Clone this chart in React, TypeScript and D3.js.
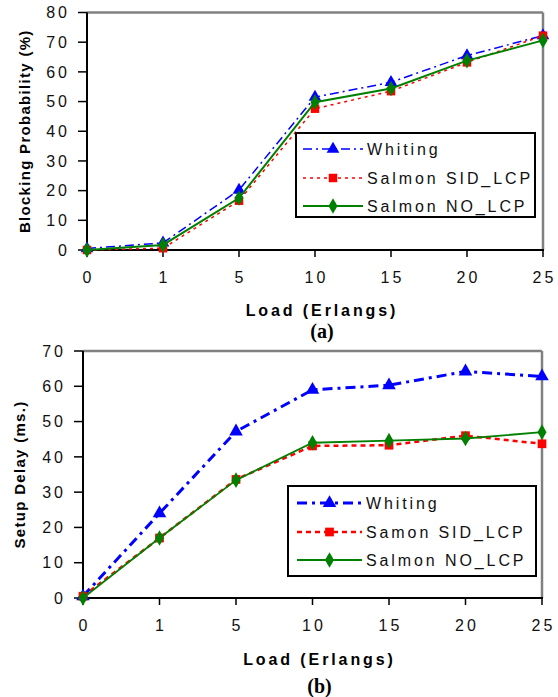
import React from "react";
import * as d3 from "d3";

// shared x categories
const loads = ["0", "1", "5", "10", "15", "20", "25"];

// (a) blocking probability (%)
const blockWhiting = [0.5, 2.4, 20.2, 51.5, 56.5, 65.5, 72.2];
const blockSid = [0, 0.6, 16.6, 47.6, 53.5, 63.2, 72.2];
const blockNo = [0, 1.7, 17.5, 49.8, 54.4, 63.8, 70.6];
const blockTicks = [0, 10, 20, 30, 40, 50, 60, 70, 80];

// (b) setup delay (ms.)
const delayWhiting = [0.5, 24, 47.2, 59, 60.3, 64.2, 62.8];
const delaySid = [0.5, 17, 33.6, 43.1, 43.3, 46, 43.7];
const delayNo = [0, 17, 33.4, 44, 44.6, 45.2, 47];
const delayTicks = [0, 10, 20, 30, 40, 50, 60, 70];

const FONT = "'Liberation Sans', Arial, sans-serif";

type Series = {
  name: string;
  values: number[];
  color: string;
  dash: string;
  width: number;
  symbol: d3.SymbolType;
  size: number;
};

type PanelProps = {
  left: number;
  right: number;
  top: number;
  bottom: number;
  yMax: number;
  yTicks: number[];
  yTitle: string;
  yTitleX: number;
  xTitleY: number;
  capY: number;
  caption: string;
  series: Series[];
  legend: { x: number; y: number; w: number; h: number; rows: number[]; lineX0: number; lineX1: number; textX: number };
};

function Panel(p: PanelProps) {
  const x = d3.scalePoint<string>().domain(loads).range([p.left, p.right]);
  const y = d3.scaleLinear().domain([0, p.yMax]).range([p.bottom, p.top]);
  const line = d3
    .line<number>()
    .x((_, i) => x(loads[i]) as number)
    .y((d) => y(d));
  const midX = (p.left + p.right) / 2 + 7;
  const midY = (p.top + p.bottom) / 2;

  return (
    <g>
      {/* frame: gray top/right, black axes */}
      <line x1={p.left} x2={p.right} y1={p.top} y2={p.top} stroke="#808080" strokeWidth={2.5} />
      <line x1={p.right} x2={p.right} y1={p.top} y2={p.bottom} stroke="#808080" strokeWidth={2.5} />
      <line x1={p.left} x2={p.left} y1={p.top} y2={p.bottom + 1} stroke="#000" strokeWidth={2} />
      <line x1={p.left - 1} x2={p.right + 1} y1={p.bottom} y2={p.bottom} stroke="#000" strokeWidth={2} />

      {p.yTicks.map((t) => (
        <g key={"y" + t}>
          <line x1={p.left - 9} x2={p.left} y1={y(t)} y2={y(t)} stroke="#000" strokeWidth={1.5} />
          <text x={p.left - 17} y={y(t)} dy="0.36em" textAnchor="end" fontSize={16} letterSpacing={3} fontFamily={FONT} fill="#111">
            {t}
          </text>
        </g>
      ))}
      {loads.map((l) => (
        <g key={"x" + l}>
          <line x1={x(l)} x2={x(l)} y1={p.bottom} y2={p.bottom + 7} stroke="#000" strokeWidth={1.5} />
          <text x={(x(l) as number) + 1.5} y={p.bottom + 33} textAnchor="middle" fontSize={16} letterSpacing={3} fontFamily={FONT} fill="#111">
            {l}
          </text>
        </g>
      ))}

      <text
        transform={`translate(${p.yTitleX},${midY}) rotate(-90)`}
        textAnchor="middle"
        dy="0.35em"
        fontSize={15}
        fontWeight="bold"
        letterSpacing={1.3}
        fontFamily={FONT}
      >
        {p.yTitle}
      </text>
      <text x={midX} y={p.xTitleY} dy="0.35em" textAnchor="middle" fontSize={16} fontWeight="bold" letterSpacing={2.9} fontFamily={FONT}>
        Load (Erlangs)
      </text>
      <text x={midX} y={p.capY} dy="0.35em" textAnchor="middle" fontSize={20} fontWeight="bold" fontFamily="'Liberation Serif', 'Times New Roman', serif">
        {p.caption}
      </text>

      {p.series.map((s) => (
        <g key={s.name}>
          <path d={line(s.values) as string} fill="none" stroke={s.color} strokeWidth={s.width} strokeDasharray={s.dash} />
          {s.values.map((v, i) => (
            <path
              key={i}
              transform={`translate(${x(loads[i])},${y(v)})`}
              d={d3.symbol().type(s.symbol).size(s.size)() as string}
              fill={s.color}
            />
          ))}
        </g>
      ))}

      {/* legend */}
      <rect x={p.legend.x} y={p.legend.y} width={p.legend.w} height={p.legend.h} fill="#fff" stroke="#000" strokeWidth={2} />
      {p.series.map((s, i) => {
        const ly = p.legend.rows[i];
        const mx = (p.legend.lineX0 + p.legend.lineX1) / 2;
        return (
          <g key={"lg" + s.name}>
            <line x1={p.legend.lineX0} x2={p.legend.lineX1} y1={ly} y2={ly} stroke={s.color} strokeWidth={s.width} strokeDasharray={s.dash} />
            <path transform={`translate(${mx},${ly})`} d={d3.symbol().type(s.symbol).size(s.size)() as string} fill={s.color} />
            <text x={p.legend.textX} y={ly} dy="0.36em" fontSize={16} letterSpacing={2.9} fontFamily={FONT} fill="#111">
              {s.name}
            </text>
          </g>
        );
      })}
    </g>
  );
}

export default function App() {
  const seriesA: Series[] = [
    { name: "Whiting", values: blockWhiting, color: "#0000ff", dash: "9 4 2 4", width: 1.5, symbol: d3.symbolTriangle, size: 70 },
    { name: "Salmon SID_LCP", values: blockSid, color: "#ff0000", dash: "3 4", width: 1.5, symbol: d3.symbolSquare, size: 72 },
    { name: "Salmon NO_LCP", values: blockNo, color: "#008000", dash: "", width: 2, symbol: d3.symbolDiamond, size: 70 },
  ];
  const seriesB: Series[] = [
    { name: "Whiting", values: delayWhiting, color: "#0000ff", dash: "10 5 3 5", width: 3, symbol: d3.symbolTriangle, size: 80 },
    { name: "Samon SID_LCP", values: delaySid, color: "#ff0000", dash: "5 4", width: 2.5, symbol: d3.symbolSquare, size: 76 },
    { name: "Salmon NO_LCP", values: delayNo, color: "#008000", dash: "", width: 1.8, symbol: d3.symbolDiamond, size: 70 },
  ];

  return (
    <svg width={558} height={697} style={{ position: "absolute", left: 0, top: 0, background: "#fff" }}>
      <Panel
        left={87}
        right={543}
        top={12.5}
        bottom={250}
        yMax={80}
        yTicks={blockTicks}
        yTitle="Blocking Probability (%)"
        yTitleX={25}
        xTitleY={310}
        capY={331}
        caption="(a)"
        series={seriesA}
        legend={{ x: 296, y: 133, w: 239, h: 84, rows: [149, 178, 206], lineX0: 303, lineX1: 363, textX: 367 }}
      />
      <Panel
        left={83}
        right={542}
        top={351}
        bottom={598}
        yMax={70}
        yTicks={delayTicks}
        yTitle="Setup Delay (ms.)"
        yTitleX={20}
        xTitleY={659}
        capY={686}
        caption="(b)"
        series={seriesB}
        legend={{ x: 288, y: 486, w: 248, h: 90, rows: [503, 532, 560], lineX0: 297, lineX1: 362, textX: 366 }}
      />
    </svg>
  );
}
